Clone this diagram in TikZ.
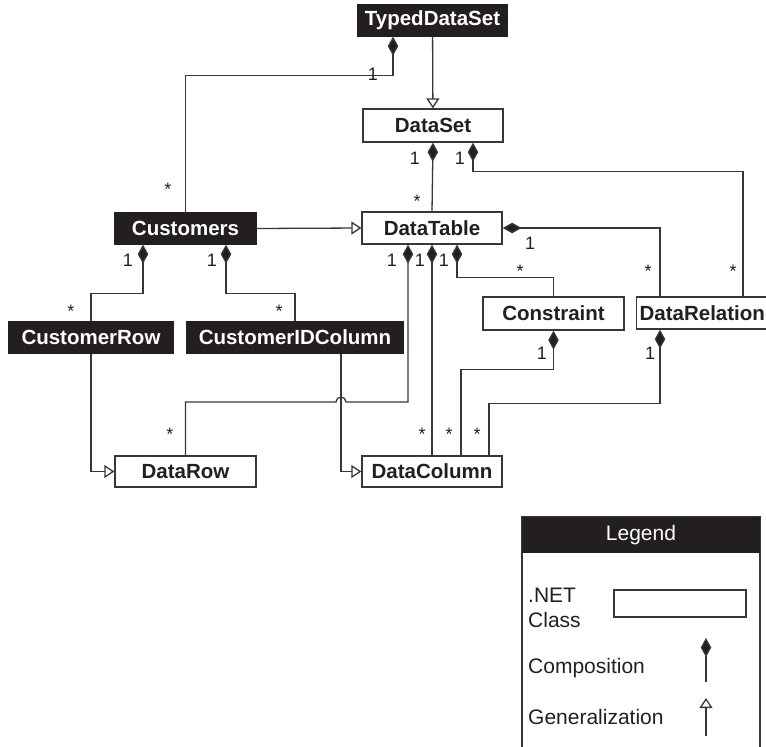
\documentclass[tikz,border=0pt]{standalone}
\usepackage{fontspec}
\setmainfont{Liberation Sans}
\usetikzlibrary{arrows.meta}
\definecolor{Ink}{RGB}{35,31,32}
\definecolor{LineGrey}{RGB}{55,55,55}
\tikzset{
  netclass/.style={draw=LineGrey,line width=1.3pt,fill=white,text=Ink,
    minimum width=140pt,minimum height=32pt,inner sep=0pt,
    font=\bfseries\fontsize{20.5}{24}\selectfont},
  userclass/.style={netclass,fill=Ink,draw=Ink,text=white},
  mult/.style={inner sep=0pt,text=Ink,font=\fontsize{18}{20}\selectfont},
  link/.style={draw=LineGrey,line width=1.3pt},
  comp/.style={link,{Diamond[length=19pt,width=10.5pt,fill=Ink]}-},
  gen/.style={link,-{Triangle[open,length=10pt,width=13pt,fill=white]}},
  legtext/.style={anchor=west,inner sep=0pt,text=Ink,
    font=\fontsize{21}{25}\selectfont,align=left}
}

\begin{document}
\begin{tikzpicture}[x=1pt,y=-1pt]
  \useasboundingbox (0,0) rectangle (766,747);
  \clip (0,0) rectangle (766,747);

  % classes
  \node[userclass,minimum width=149pt,minimum height=31pt] (tds) at (432.5,20.5) {TypedDataSet};
  \node[netclass,minimum height=33pt] (ds) at (433,125.5) {DataSet};
  \node[netclass] (dt) at (432,228) {DataTable};
  \node[userclass,minimum width=141pt,minimum height=31pt] (cust) at (185.5,228.5) {Customers};
  \node[userclass,minimum width=164pt,minimum height=31pt] (crow) at (91,337.5) {CustomerRow};
  \node[userclass,minimum width=216pt,minimum height=31pt] (cidc) at (295,337.5) {CustomerIDColumn};
  \node[netclass,minimum width=141pt,minimum height=33pt] (cons) at (553.5,313.5) {Constraint};
  \node[netclass,minimum width=0pt,inner xsep=3pt,anchor=west] (drel) at (636,313) {DataRelation};
  \node[netclass,minimum width=141pt,minimum height=31pt] (drow) at (185.5,471.5) {DataRow};
  \node[netclass,minimum height=31pt] (dcol) at (432,471.5) {DataColumn};
  \coordinate (jump) at (341,402);

  % generalizations
  \draw[gen] (tds) -- (ds);
  \draw[gen] (cust.east) -- (dt.west);
  \draw[gen] (crow.south) |- (drow.west);
  \draw[gen] ([xshift=46pt]cidc.south) |- (dcol.west);

  % compositions
  \draw[comp] ([xshift=-39.5pt]tds.south) -- ++(0,39) -| (cust.north);
  \draw[comp] (ds.south) -- (dt.north);
  \draw[comp] ([xshift=40pt]ds.south) -- ++(0,29) -| ([xshift=107pt]drel.north west);
  \draw[comp] (dt.east) -| ([xshift=24pt]drel.north west);
  \draw[comp] ([xshift=-42.5pt]cust.south) -- ++(0,49) -| (crow.north);
  \draw[comp] ([xshift=40.5pt]cust.south) -- ++(0,49) -| (cidc.north);
  \draw[comp] ([xshift=-24pt]dt.south) |- ([xshift=5pt]jump)
    arc[start angle=0,end angle=180,radius=5pt] -| (drow.north);
  \draw[comp] (dt.south) -- (dcol.north);
  \draw[comp] ([xshift=25pt]dt.south) -- ++(0,33) -| (cons.north);
  \draw[comp] (cons.south) -- ++(0,39) -| ([xshift=29pt]dcol.north);
  \draw[comp] ([xshift=24pt]drel.south west) -- ++(0,74) -| ([xshift=57pt]dcol.north);

  % multiplicities
  \node[mult] (m1) at (373,74.5) {1};
  \node[mult] (m2) at (168,189) {*};
  \node[mult] (m3) at (415,158) {1};
  \node[mult] (m4) at (460,158) {1};
  \node[mult] (m5) at (417,201) {*};
  \node[mult] (m6) at (530,243) {1};
  \node[mult] (m7) at (520,271) {*};
  \node[mult] (m8) at (648,271) {*};
  \node[mult] (m9) at (733,271) {*};
  \node[mult] (m10) at (392,260) {1};
  \node[mult] (m11) at (420,260) {1};
  \node[mult] (m12) at (444,260) {1};
  \node[mult] (m13) at (128,260) {1};
  \node[mult] (m14) at (212,260) {1};
  \node[mult] (m15) at (71,311) {*};
  \node[mult] (m16) at (279,311) {*};
  \node[mult] (m17) at (542,353) {1};
  \node[mult] (m18) at (650,353) {1};
  \node[mult] (m19) at (170,434) {*};
  \node[mult] (m20) at (422,434) {*};
  \node[mult] (m21) at (449,434) {*};
  \node[mult] (m22) at (477,434) {*};

  % legend
  \draw[link] (522,760) -- (522,517) -- (760,517) -- (760,760);
  \node[fill=Ink,text=white,minimum width=238pt,minimum height=36pt,inner sep=0pt,
    font=\fontsize{21}{25}\selectfont] (leghead) at (641,535) {Legend};
  \node[legtext] (legnet) at (528,607.5) {.NET\\Class};
  \node[draw=LineGrey,line width=1.3pt,minimum width=132pt,minimum height=27pt,
    inner sep=0pt] (legbox) at (680,603.5) {};
  \node[legtext] (legcomp) at (528,668) {Composition};
  \node[legtext] (leggen) at (528,717) {Generalization};
  \coordinate (compTop) at (706,638);
  \coordinate (compBot) at (706,682);
  \coordinate (genTop) at (706,698);
  \coordinate (genBot) at (706,736);
  \draw[comp] (compTop) -- (compBot);
  \draw[gen] (genBot) -- (genTop);
\end{tikzpicture}
\end{document}
